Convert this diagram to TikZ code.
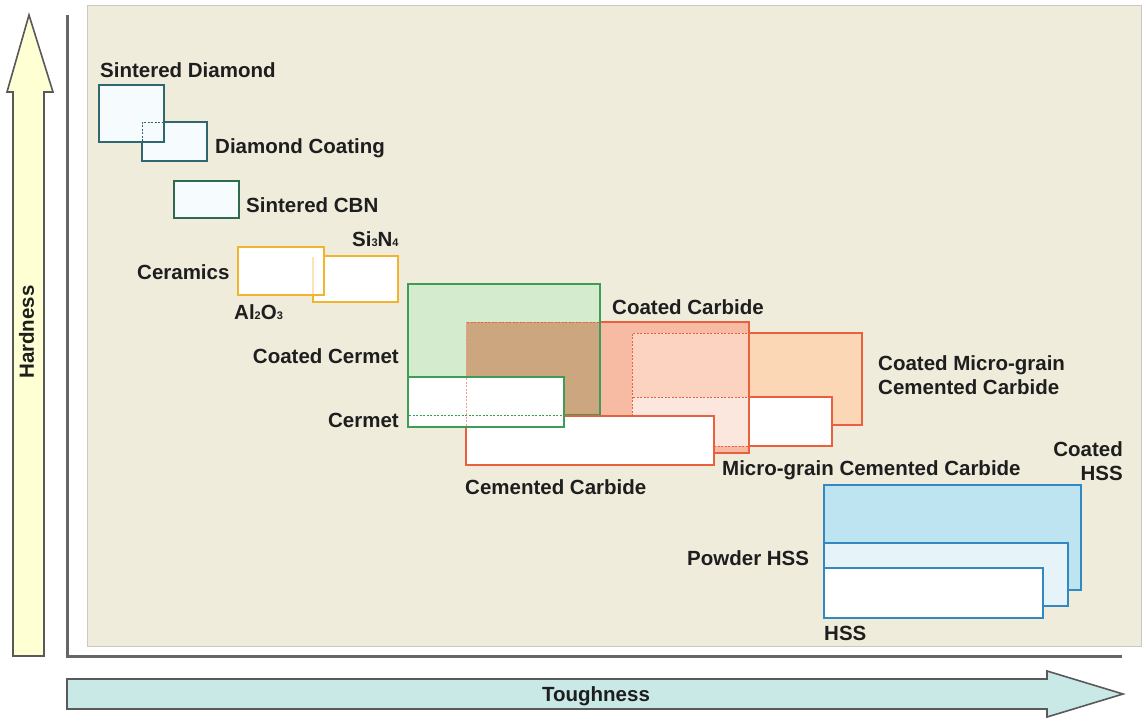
\documentclass[tikz,border=0pt]{standalone}
\usepackage{fontspec}
\setmainfont{Liberation Sans}
\definecolor{panel}{HTML}{F0ECDC}
\definecolor{panelline}{HTML}{C9C9C4}
\definecolor{hardfill}{HTML}{FFFFD4}
\definecolor{toughfill}{HTML}{C8E9E6}
\definecolor{arrowline}{HTML}{595959}
\definecolor{axisline}{HTML}{666666}
\definecolor{teal}{HTML}{2F6670}
\definecolor{cbn}{HTML}{2D6A50}
\definecolor{orng}{HTML}{F2B331}
\definecolor{grn}{HTML}{3D9C55}
\definecolor{redl}{HTML}{E8603E}
\definecolor{blu}{HTML}{3289C0}
\definecolor{cgreen}{HTML}{D5EBCD}
\definecolor{tan}{HTML}{CBA67F}
\definecolor{salmon}{HTML}{F7BAA2}
\definecolor{peach}{HTML}{FBD7B5}
\definecolor{pinkA}{HTML}{FBD3C0}
\definecolor{pinkB}{HTML}{FCE7DF}
\definecolor{hssA}{HTML}{BFE4F1}
\definecolor{hssB}{HTML}{E6F4F9}
\definecolor{dfill}{HTML}{F6FCFD}
\definecolor{txt}{HTML}{1E1E1E}
\begin{document}
\begin{tikzpicture}[x=1pt,y=-1pt,
  lbl/.style={font=\bfseries\fontsize{20.5}{24}\selectfont, text=txt, inner sep=0pt},
  boxline/.style={line width=2.2pt},
  hid/.style={line width=1pt, dash pattern=on 2pt off 1.5pt},
  arrowshape/.style={draw=arrowline, line width=1.6pt, line join=miter}]
\useasboundingbox (0,0) rectangle (1146,718);
\fill[white] (0,0) rectangle (1146,718);
% panel
\draw[draw=panelline, fill=panel, line width=1pt] (87,5) rectangle (1141,646);
% axes
\draw[axisline, line width=3pt] (67,15) -- (67,656) -- (1122,656);
% hardness arrow
\draw[arrowshape, fill=hardfill] (13,656) -- (13,92) -- (7,92) -- (29,15) -- (53,92) -- (44,92) -- (44,656) -- cycle;
\node[lbl, rotate=90, anchor=base] (hard) at (34,332) {Hardness};
% toughness arrow
\draw[arrowshape, fill=toughfill] (67,679) -- (1047,679) -- (1047,671) -- (1123,694) -- (1047,717) -- (1047,709) -- (67,709) -- cycle;
\node[lbl, anchor=base] (tough) at (596,701) {Toughness};

% diamond
\draw[boxline, teal, fill=dfill] (142,122) rectangle (207,161);
\draw[boxline, teal, fill=dfill] (99,85) rectangle (164,142);
\draw[hid, teal] (142,141) -- (142,122) -- (163,122);
\node[lbl, anchor=base west] (sd) at (100,77.5) {Sintered Diamond};
\node[lbl, anchor=base west] (dc) at (215,153) {Diamond Coating};
% CBN
\draw[boxline, cbn, fill=dfill] (174,181) rectangle (239,218);
\node[lbl, anchor=base west] (cbnl) at (246,212) {Sintered CBN};
% ceramics
\draw[boxline, orng, fill=white] (313,256) rectangle (398,302);
\draw[boxline, orng, fill=white] (238,247) rectangle (324,295);
\draw[line width=1.2pt, orng!35!white] (313,257) -- (313,294);
\node[lbl, anchor=base west] (si) at (352,246) {Si{\fontsize{11}{11}\selectfont 3}N{\fontsize{11}{11}\selectfont 4}};
\node[lbl, anchor=base west] (cer) at (137,279) {Ceramics};
\node[lbl, anchor=base west] (al) at (234,319) {Al{\fontsize{11}{11}\selectfont 2}O{\fontsize{11}{11}\selectfont 3}};

% carbide fills
\fill[salmon] (466,322) rectangle (749,453);
\fill[peach] (632,333) rectangle (862,425);
\fill[pinkA] (632,333) rectangle (749,425);
\fill[white] (632,397) rectangle (832,446);
\fill[pinkB] (632,397) rectangle (749,446);
% carbide outlines
\draw[boxline, redl] (749,333) -- (862,333) -- (862,425) -- (832,425);
\draw[boxline, redl] (749,397) -- (832,397) -- (832,446) -- (749,446);
\draw[boxline, redl] (466,322) rectangle (749,453);
\draw[hid, redl] (632,416) -- (632,333) -- (748,333);
\draw[hid, redl] (633,397) -- (748,397);
\draw[hid, redl] (714,446) -- (748,446);
% coated cermet
\fill[cgreen] (408,284) rectangle (600,415);
\fill[tan] (466,322) rectangle (600,415);
\draw[boxline, grn] (408,284) rectangle (600,415);
\draw[hid, redl] (467,322) -- (599,322);
\draw[hid, redl!60!white] (466,323) -- (466,414);
% cemented carbide
\draw[boxline, redl, fill=white] (466,416) rectangle (714,465);
% cermet
\draw[boxline, grn, fill=white] (408,377) rectangle (564,427);
\draw[hid, grn] (409,415) -- (563,415);
\draw[hid, redl!60!white] (466,378) -- (466,426);

\node[lbl, anchor=base east] (ccm) at (399,363) {Coated Cermet};
\node[lbl, anchor=base east] (cm) at (399,427) {Cermet};
\node[lbl, anchor=base west] (cc) at (612,314) {Coated Carbide};
\node[lbl, anchor=base west] (cemc) at (465,494) {Cemented Carbide};
\node[lbl, anchor=base west] (mg) at (722,475) {Micro-grain Cemented Carbide};
\node[lbl, anchor=base west] (cmg1) at (878,370) {Coated Micro-grain};
\node[lbl, anchor=base west] (cmg2) at (878,394) {Cemented Carbide};

% HSS
\draw[boxline, blu, fill=hssA] (824,485) rectangle (1081,590);
\draw[boxline, blu, fill=hssB] (824,543) rectangle (1068,606);
\draw[boxline, blu, fill=white] (824,568) rectangle (1043,618);
\node[lbl, anchor=base east] (chss1) at (1123,456) {Coated};
\node[lbl, anchor=base east] (chss2) at (1123,480) {HSS};
\node[lbl, anchor=base west] (phss) at (687,565) {Powder HSS};
\node[lbl, anchor=base west] (hss) at (824,640) {HSS};
\end{tikzpicture}
\end{document}
